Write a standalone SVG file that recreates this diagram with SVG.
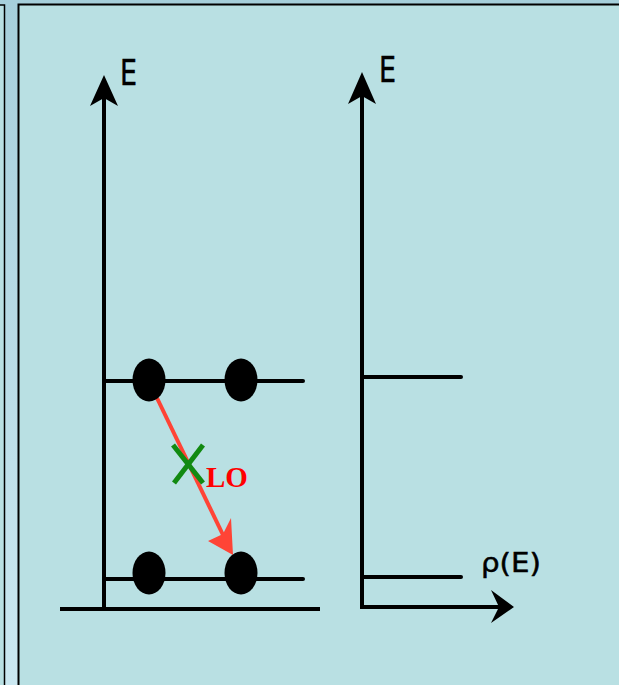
<svg xmlns="http://www.w3.org/2000/svg" width="619" height="685" viewBox="0 0 619 685">
<defs>
<linearGradient id="bg" x1="0" y1="0" x2="0" y2="1">
<stop offset="0" stop-color="#a6cfdb"/>
<stop offset="1" stop-color="#cbe8f1"/>
</linearGradient>
<style>
.ax{stroke:#000;stroke-width:4;fill:none}
.lv{stroke:#000;stroke-width:4;fill:none;stroke-linecap:round}
.head{fill:#000}
.dot{fill:#000}
.lbl{font-family:"DejaVu Sans",sans-serif;fill:#000;stroke:#000;stroke-width:0.5}
</style>
</defs>
<rect x="0" y="0" width="619" height="685" fill="url(#bg)"/>
<g id="left-panel">
<rect x="-10" y="5" width="14.5" height="690" fill="#b9e0e3" stroke="#000" stroke-width="1.5"/>
</g>
<g id="main-panel">
<rect x="18.5" y="4.5" width="610" height="690" fill="#b9e0e3" stroke="#000" stroke-width="2"/>
</g>
<g id="connectors">
<line class="ax" x1="104" y1="609" x2="104" y2="98"/>
<polygon class="head" points="104,75 118,106 104,98 90,106"/>
<line class="ax" x1="60" y1="609" x2="320" y2="609"/>
<line class="ax" x1="362" y1="607" x2="362" y2="95"/>
<polygon class="head" points="362,72 376,104 362,96 348,104"/>
<line class="ax" x1="360" y1="607" x2="500" y2="607"/>
<polygon class="head" points="514,607 491,623 499,607 491,590"/>
<line x1="157" y1="398" x2="224" y2="537" stroke="#ff4436" stroke-width="4"/>
<polygon points="233,555 208,541 223,534 231,518" fill="#ff4436"/>
</g>
<g id="left-levels">
<line class="lv" x1="105" y1="381" x2="303" y2="381" stroke-linecap="butt"/>
<line class="lv" x1="105" y1="579" x2="303" y2="579" stroke-linecap="butt"/>
</g>
<g id="right-levels">
<line class="lv" x1="362" y1="377" x2="461" y2="377"/>
<line class="lv" x1="362" y1="577" x2="461" y2="577"/>
</g>
<g id="electrons">
<ellipse class="dot" cx="149" cy="380" rx="16.5" ry="21.5"/>
<ellipse class="dot" cx="241" cy="380" rx="16.5" ry="21.5"/>
<ellipse class="dot" cx="149" cy="573" rx="16.5" ry="21.5"/>
<ellipse class="dot" cx="241" cy="573" rx="16.5" ry="21.5"/>
</g>
<g id="cross">
<line x1="173" y1="445" x2="203" y2="483" stroke="#118a11" stroke-width="5"/>
<line x1="203" y1="445" x2="174" y2="483" stroke="#118a11" stroke-width="5"/>
</g>
<g id="labels">
<text class="lbl" x="120" y="85" font-size="35" textLength="17" lengthAdjust="spacingAndGlyphs">E</text>
<text class="lbl" x="379" y="82" font-size="35" textLength="17" lengthAdjust="spacingAndGlyphs">E</text>
<text class="lbl" x="481" y="572" font-size="27" textLength="60" lengthAdjust="spacingAndGlyphs" stroke-width="0.2">ρ(E)</text>
<text x="206" y="487" font-family="'Liberation Serif',serif" font-weight="bold" font-size="29" fill="#ff0000">LO</text>
</g>
</svg>
